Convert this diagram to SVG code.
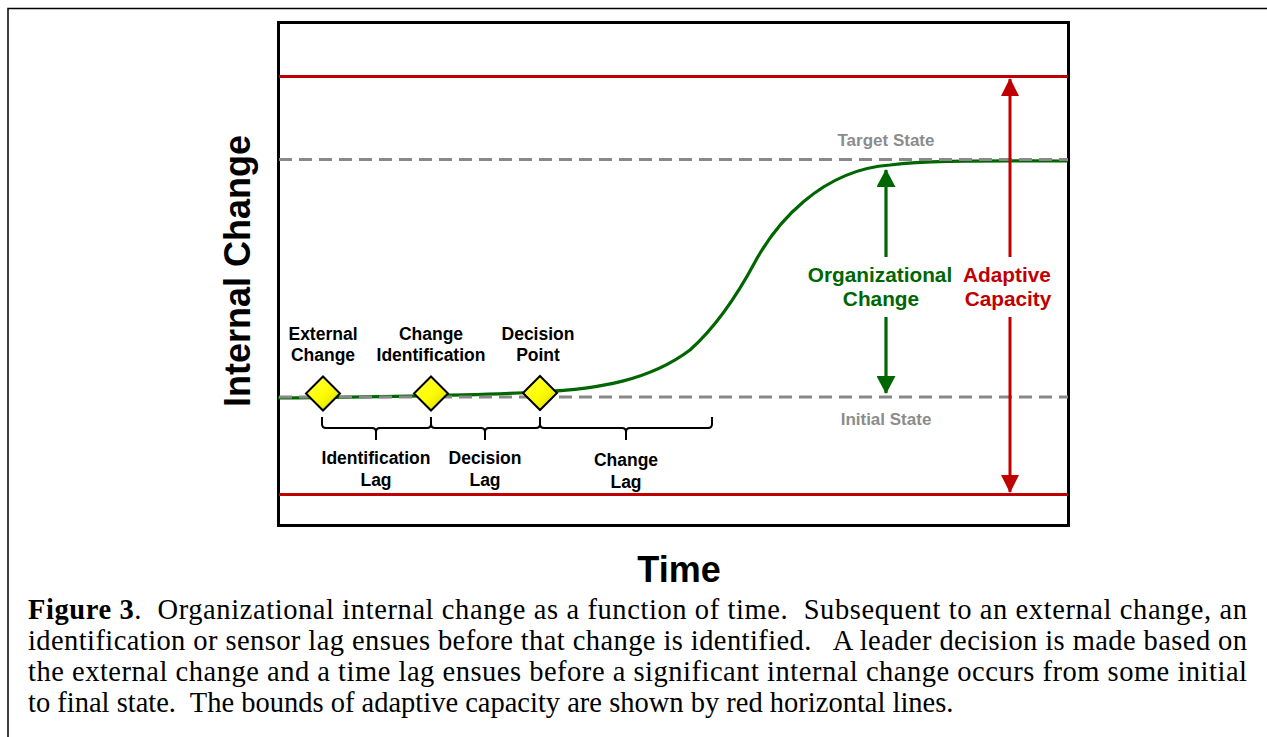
<svg xmlns="http://www.w3.org/2000/svg" width="1267" height="737" viewBox="0 0 1267 737">
<style>
.lbl{font-family:"Liberation Sans",Arial,sans-serif;font-weight:bold;font-size:17.5px;fill:#000;text-anchor:middle}
.big{font-family:"Liberation Sans",Arial,sans-serif;font-weight:bold;font-size:20.8px;text-anchor:middle}
.state{font-family:"Liberation Sans",Arial,sans-serif;font-weight:bold;font-size:17px;fill:#8c8c8c;text-anchor:middle}
.axis{font-family:"Liberation Sans",Arial,sans-serif;font-weight:bold;font-size:36px;fill:#000;text-anchor:middle}
.cap{font-family:"Liberation Serif","Times New Roman",serif;font-size:28.5px;fill:#000;white-space:pre}
.dash{stroke:#888;stroke-width:3;stroke-dasharray:13,7;fill:none}
.red{stroke:#c00000;stroke-width:3;fill:none}
.grn{stroke:#006600;stroke-width:3.2;fill:none}
.brace{stroke:#000;stroke-width:2;fill:none}
.dia{fill:url(#yg);stroke:#000;stroke-width:2}
</style>
<defs>
<linearGradient id="yg" x1="0" y1="0" x2="1" y2="1">
<stop offset="0" stop-color="#ffff55"/>
<stop offset="0.5" stop-color="#ffff00"/>
<stop offset="1" stop-color="#d6d600"/>
</linearGradient>
<marker id="ra" viewBox="0 0 18 18" refX="17" refY="9" markerWidth="18" markerHeight="18" markerUnits="userSpaceOnUse" orient="auto">
<path d="M0,0 L18,9 L0,18 Z" fill="#c00000"/>
</marker>
<marker id="ga" viewBox="0 0 18 19" refX="17" refY="9.5" markerWidth="18" markerHeight="19" markerUnits="userSpaceOnUse" orient="auto">
<path d="M0,0 L18,9.5 L0,19 Z" fill="#006600"/>
</marker>
</defs>
<rect width="1267" height="737" fill="#fff"/>
<rect x="8" y="8.5" width="1300" height="800" fill="none" stroke="#000" stroke-width="1.5"/>

<g id="plot-frame">
<rect x="278.5" y="22.5" width="790" height="503" fill="#fff" stroke="#000" stroke-width="3"/>
</g>

<g id="connectors">
<path class="grn" d="M278,398 C380,397 480,395 540,392 C600,389 650,380 690,350 C718,325 740,290 755,262 C775,225 820,170 890,165 C930,160 980,161 1068,161"/>
<line class="dash" x1="279" y1="159.5" x2="1068" y2="159.5"/>
<line class="dash" x1="279" y1="397" x2="1068" y2="397"/>
<line class="red" x1="279" y1="76.5" x2="1068" y2="76.5"/>
<line class="red" x1="279" y1="494.5" x2="1068" y2="494.5"/>
<line class="red" x1="1010" y1="257" x2="1010" y2="79" marker-end="url(#ra)"/>
<line class="red" x1="1010" y1="317" x2="1010" y2="492" marker-end="url(#ra)"/>
<line class="grn" x1="886" y1="257" x2="886" y2="170" marker-end="url(#ga)"/>
<line class="grn" x1="886" y1="317" x2="886" y2="393" marker-end="url(#ga)"/>
<path class="brace" d="M322,417 v7 q0,4 4,4 H372 q4,0 4,4 v8 M376,432 q0,-4 4,-4 H427 q4,0 4,-4 v-7"/>
<path class="brace" d="M431,417 v7 q0,4 4,4 H481 q4,0 4,4 v8 M485,432 q0,-4 4,-4 H536 q4,0 4,-4 v-7"/>
<path class="brace" d="M540,417 v7 q0,4 4,4 H622 q4,0 4,4 v8 M626,432 q0,-4 4,-4 H708 q4,0 4,-4 v-7"/>
</g>

<g id="external-change">
<polygon class="dia" points="323,376.5 340,393.5 323,410.5 306,393.5"/>
<text class="lbl" x="323" y="340">External</text>
<text class="lbl" x="323" y="361">Change</text>
</g>
<g id="change-identification">
<polygon class="dia" points="431,376.5 448,393.5 431,410.5 414,393.5"/>
<text class="lbl" x="431" y="340">Change</text>
<text class="lbl" x="431" y="361">Identification</text>
</g>
<g id="decision-point">
<polygon class="dia" points="540,376 557,393 540,410 523,393"/>
<text class="lbl" x="538" y="340">Decision</text>
<text class="lbl" x="538" y="361">Point</text>
</g>

<g id="identification-lag">
<text class="lbl" x="376" y="464">Identification</text>
<text class="lbl" x="376" y="486">Lag</text>
</g>
<g id="decision-lag">
<text class="lbl" x="485" y="464">Decision</text>
<text class="lbl" x="485" y="486">Lag</text>
</g>
<g id="change-lag">
<text class="lbl" x="626" y="466">Change</text>
<text class="lbl" x="626" y="488">Lag</text>
</g>

<g id="target-state"><text class="state" x="886" y="146">Target State</text></g>
<g id="initial-state"><text class="state" x="886" y="425">Initial State</text></g>

<g id="organizational-change">
<text class="big" fill="#006600" x="880" y="282">Organizational</text>
<text class="big" fill="#006600" x="881" y="306">Change</text>
</g>
<g id="adaptive-capacity">
<text class="big" fill="#c00000" x="1007" y="282">Adaptive</text>
<text class="big" fill="#c00000" x="1008" y="306">Capacity</text>
</g>

<g id="axes-labels">
<text class="axis" transform="translate(250,271) rotate(-90)">Internal Change</text>
<text class="axis" x="679" y="582">Time</text>
</g>

<g id="caption">
<text class="cap" x="28" y="619" textLength="1219" lengthAdjust="spacing"><tspan font-weight="bold">Figure 3</tspan>.  Organizational internal change as a function of time.  Subsequent to an external change, an</text>
<text class="cap" x="28" y="650" textLength="1219" lengthAdjust="spacing">identification or sensor lag ensues before that change is identified.   A leader decision is made based on</text>
<text class="cap" x="28" y="681" textLength="1219" lengthAdjust="spacing">the external change and a time lag ensues before a significant internal change occurs from some initial</text>
<text class="cap" x="28" y="712">to final state.  The bounds of adaptive capacity are shown by red horizontal lines.</text>
</g>
</svg>
